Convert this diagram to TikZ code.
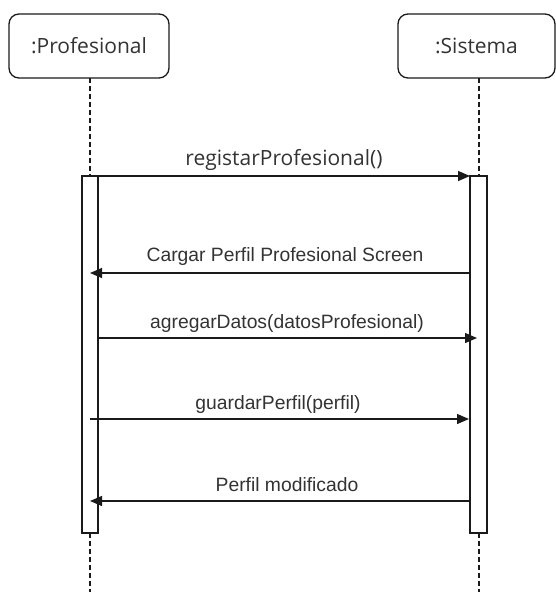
\documentclass[tikz,border=0pt]{standalone}
\usepackage{fontspec}
\setmainfont{Liberation Sans}
\newfontfamily\boxfont{Open Sans}
\usetikzlibrary{arrows.meta}
\definecolor{ink}{HTML}{1A1A1A}
\definecolor{txt}{HTML}{333333}
\begin{document}
\begin{tikzpicture}[x=1pt,y=-1pt,
  actor/.style={draw=ink,line width=1.3pt,rounded corners=10pt,minimum width=160pt,minimum height=64pt,inner sep=0pt,font=\boxfont\fontsize{21}{25}\selectfont,text=txt},
  bar/.style={draw=ink,line width=1.3pt,fill=white,minimum width=16pt,minimum height=357pt,inner sep=0pt},
  life/.style={draw=ink,line width=1.3pt,dash pattern=on 5pt off 3pt},
  msg/.style={draw=ink,line width=1.3pt,-{Triangle[length=12pt,width=10pt]}},
  lbl/.style={font=\fontsize{19.3}{23}\selectfont,text=txt,inner sep=0pt},
  lblb/.style={font=\boxfont\fontsize{21}{25}\selectfont,text=txt,inner sep=0pt}]
\useasboundingbox (0,0) rectangle (556,592);
\node[actor] (prof) at (89,46) {:Profesional};
\node[actor,minimum width=157pt] (sis) at (476.5,46) {:Sistema};
\node[bar] (actP) at (90,354.5) {};
\node[bar,minimum width=17pt] (actS) at (478.5,354.5) {};
\coordinate (topP) at (90,78);
\coordinate (topS) at (479,78);
\coordinate (barP) at (90,176);
\coordinate (barS) at (479,176);
\coordinate (botP) at (90,533);
\coordinate (botS) at (479,533);
\coordinate (endP) at (90,592);
\coordinate (endS) at (479,592);
\draw[life] (topP) -- (barP);
\draw[life] (topS) -- (barS);
\draw[life] (botP) -- (endP);
\draw[life] (botS) -- (endS);
% messages
\coordinate (m1a) at (98,176);   \coordinate (m1b) at (470,176);
\coordinate (m2a) at (470,273);  \coordinate (m2b) at (90,273);
\coordinate (m3a) at (98,338);   \coordinate (m3b) at (477,338);
\coordinate (m4a) at (90,419);   \coordinate (m4b) at (469,419);
\coordinate (m5a) at (470,501);  \coordinate (m5b) at (90,501);
\draw[msg] (m1a) -- (m1b);
\draw[msg] (m2a) -- (m2b);
\draw[msg] (m3a) -- (m3b);
\draw[msg] (m4a) -- (m4b);
\draw[msg] (m5a) -- (m5b);
\node[lblb] (t1) at (284,160) {registarProfesional()};
\node[lbl] (t2) at (285,257) {Cargar Perfil Profesional Screen};
\node[lbl] (t3) at (287,324) {agregarDatos(datosProfesional)};
\node[lbl] (t4) at (278,405) {guardarPerfil(perfil)};
\node[lbl] (t5) at (287,485) {Perfil modificado};
\end{tikzpicture}
\end{document}
